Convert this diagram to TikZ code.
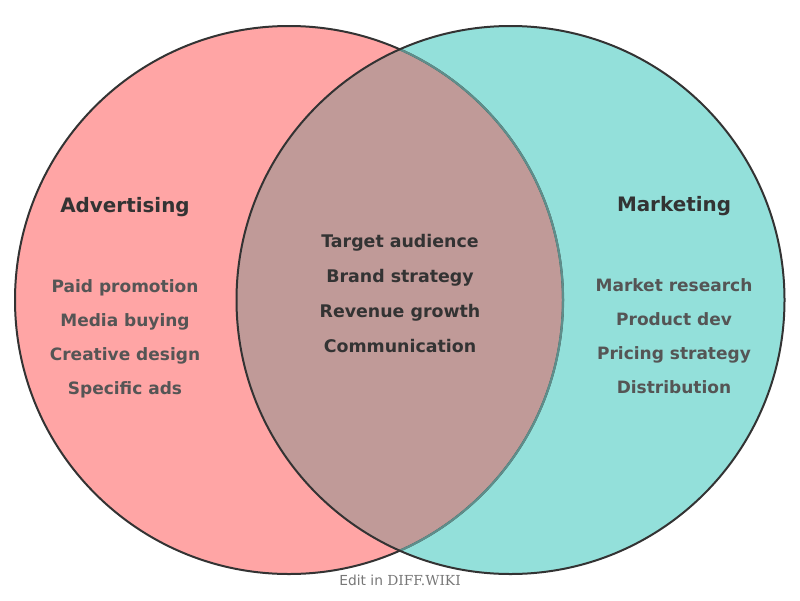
\documentclass[tikz,border=0pt]{standalone}
\usepackage{fontspec}
\setmainfont{DejaVu Sans}
\newfontfamily\serifpart{DejaVu Serif}
\definecolor{pinkfill}{HTML}{FFA5A5}
\definecolor{tealfill}{HTML}{93E0DA}
\definecolor{overlapfill}{HTML}{C09A98}
\definecolor{edgecol}{HTML}{333333}
\definecolor{hiddenedge}{HTML}{5E8E8B}
\definecolor{titlecol}{HTML}{333333}
\definecolor{itemcol}{HTML}{555555}
\definecolor{notecol}{HTML}{777777}
\tikzset{
  settitle/.style={anchor=base, inner sep=0pt, text=titlecol, font=\fontsize{19.9}{22}\selectfont\bfseries},
  setitem/.style={anchor=base, inner sep=0pt, text=itemcol, font=\fontsize{17}{20}\selectfont\bfseries},
  shareditem/.style={anchor=base, inner sep=0pt, text=titlecol, font=\fontsize{17.4}{20}\selectfont\bfseries},
  note/.style={anchor=base, inner sep=0pt, text=notecol, font=\fontsize{13.8}{16}\selectfont},
  setedge/.style={draw=edgecol, line width=2pt},
}
\begin{document}
\begin{tikzpicture}[x=1pt, y=-1pt]
\useasboundingbox (0,0) rectangle (800,600);
\fill[white] (0,0) rectangle (800,600);
% circles
\coordinate (lc) at (289,300);
\coordinate (rc) at (510.5,300);
\fill[pinkfill] (lc) circle[radius=274];
\fill[tealfill] (rc) circle[radius=274];
\begin{scope}
  \clip (lc) circle[radius=274];
  \fill[overlapfill] (rc) circle[radius=274];
\end{scope}
\draw[setedge] (lc) circle[radius=274];
\begin{scope}
  \clip (rc) circle[radius=274];
  \draw[draw=hiddenedge, line width=2.2pt] (lc) circle[radius=274];
\end{scope}
\draw[setedge] (rc) circle[radius=274];
% titles
\node[settitle] (adv) at (125,212) {Advertising};
\node[settitle] (mkt) at (674,211.5) {Marketing};
% left items
\node[setitem] (l1) at (125,292.5) {Paid promotion};
\node[setitem] (l2) at (125,326.5) {Media buying};
\node[setitem] (l3) at (125,360.5) {Creative design};
\node[setitem] (l4) at (125,394.5) {Specific ads};
% right items
\node[setitem] (r1) at (674,291.5) {Market research};
\node[setitem] (r2) at (674,325.5) {Product dev};
\node[setitem] (r3) at (674,359.5) {Pricing strategy};
\node[setitem] (r4) at (674,393.5) {Distribution};
% shared items
\node[shareditem] (c1) at (400,247.5) {Target audience};
\node[shareditem] (c2) at (400,282.5) {Brand strategy};
\node[shareditem] (c3) at (400,317.5) {Revenue growth};
\node[shareditem] (c4) at (400,352.5) {Communication};
% footer
\node[note] (foot) at (400,585.5) {Edit in {\serifpart DIFF.WIKI}};
\end{tikzpicture}
\end{document}
